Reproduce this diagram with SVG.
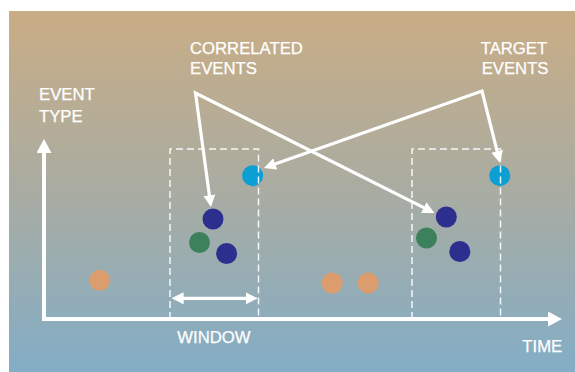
<svg xmlns="http://www.w3.org/2000/svg" width="575" height="372" viewBox="0 0 575 372">
<style>
.lbl{font-family:"Liberation Sans",Arial,sans-serif;font-size:16.7px;fill:#ffffff;stroke:#ffffff;stroke-width:0.25;}
.axis{stroke:#ffffff;stroke-width:4;fill:none;}
.conn{stroke:#ffffff;stroke-width:3.2;fill:none;stroke-linejoin:miter;stroke-miterlimit:20;}
.win{stroke:#ffffff;stroke-width:1.5;fill:none;stroke-dasharray:7 4;opacity:0.9;}
.cyan{fill:#0c9fd4;}
.navy{fill:#2d2f8f;}
.green{fill:#3d815c;}
.orange{fill:#dc9d6e;}
</style>
<defs>
<linearGradient id="bg" x1="0" y1="0" x2="0" y2="1">
<stop offset="0" stop-color="#c9ad85"/>
<stop offset="0.5" stop-color="#a9aca2"/>
<stop offset="1" stop-color="#83adc6"/>
</linearGradient>
<marker id="ah" viewBox="0 0 12 12" markerWidth="12" markerHeight="12" refX="4" refY="6" orient="auto-start-reverse" markerUnits="userSpaceOnUse">
<path d="M0,0 L12,6 L0,12 z" fill="#ffffff"/>
</marker>
<marker id="axh" viewBox="0 0 14 15" markerWidth="14" markerHeight="15" refX="3" refY="7.5" orient="auto" markerUnits="userSpaceOnUse">
<path d="M0,0 L14,7.5 L0,15 z" fill="#ffffff"/>
</marker>
</defs>
<rect x="9" y="11" width="566" height="361" fill="url(#bg)"/>

<g id="dots">
<circle id="cyan1" class="cyan" cx="252.6" cy="175.7" r="10.5"/>
<circle id="cyan2" class="cyan" cx="499.8" cy="175.7" r="10.5"/>
<circle id="navy1" class="navy" cx="213" cy="219" r="10.5"/>
<circle id="green1" class="green" cx="199.5" cy="242.5" r="10.5"/>
<circle id="navy2" class="navy" cx="226.6" cy="253.5" r="10.5"/>
<circle id="navy3" class="navy" cx="446.3" cy="217" r="10.5"/>
<circle id="green2" class="green" cx="426.5" cy="238" r="10.5"/>
<circle id="navy4" class="navy" cx="459.8" cy="251.5" r="10.5"/>
<circle id="orange1" class="orange" cx="99.7" cy="280.3" r="10.5"/>
<circle id="orange2" class="orange" cx="332.2" cy="283" r="10.5"/>
<circle id="orange3" class="orange" cx="368.2" cy="283" r="10.5"/>
</g>

<g id="windows">
<path class="win" d="M170,319 V149 H258.5 V319"/>
<path class="win" d="M412,319 V149 H500.5 V319"/>
</g>

<g id="axes">
<path class="axis" d="M44,321 V150" marker-end="url(#axh)"/>
<path class="axis" d="M42,319 H551" marker-end="url(#axh)"/>
</g>

<g id="connectors">
<polyline class="conn" points="209.9,199.1 195.5,93 427.3,209.4" marker-start="url(#ah)" marker-end="url(#ah)"/>
<polyline class="conn" points="271.5,165.3 482,91 498.1,155.2" marker-start="url(#ah)" marker-end="url(#ah)"/>
<line class="conn" x1="179.6" y1="298.3" x2="249.8" y2="298.3" marker-start="url(#ah)" marker-end="url(#ah)"/>
</g>

<g id="labels">
<text class="lbl" x="190" y="54">CORRELATED</text>
<text class="lbl" x="190" y="74.3">EVENTS</text>
<text class="lbl" x="480.7" y="54">TARGET</text>
<text class="lbl" x="481.7" y="74.3">EVENTS</text>
<text class="lbl" x="39" y="100">EVENT</text>
<text class="lbl" x="39" y="121.5">TYPE</text>
<text class="lbl" x="177.3" y="342.7">WINDOW</text>
<text class="lbl" x="522.3" y="351.7">TIME</text>
</g>
</svg>
